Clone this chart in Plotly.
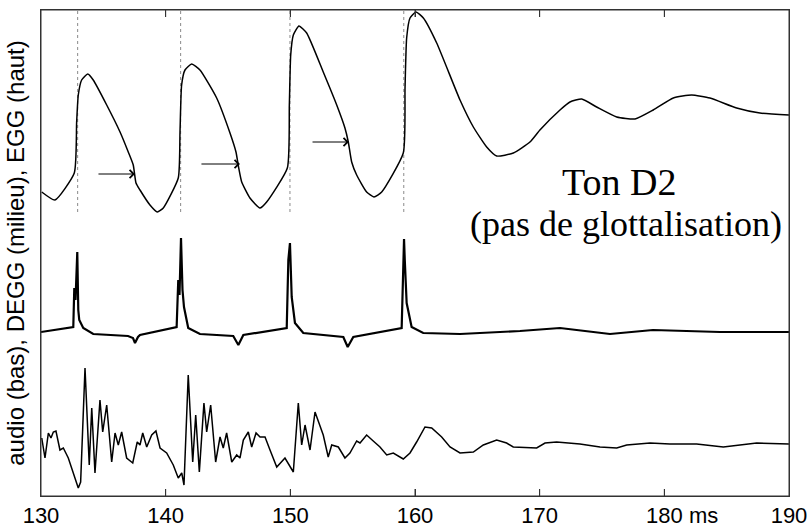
import plotly.graph_objects as go

# ---------------- data (time in ms, amplitude in arbitrary units on a common stacked scale) ----
egg_t = [130.06, 131.12, 132.67, 132.86, 132.99, 133.26, 133.75, 134.19, 135.27, 136.34,
         137.00, 137.40, 137.62, 137.94, 138.74, 139.33, 139.81, 141.01, 141.15, 141.28,
         141.55, 142.09, 142.75, 144.09, 145.16, 145.64, 145.86, 146.10, 146.76, 147.56,
         148.10, 149.76, 149.92, 150.03, 150.24, 150.69, 151.31, 152.64, 153.72, 154.38,
         154.65, 154.92, 155.32, 156.12, 156.71, 157.33, 159.06, 159.20, 159.33, 159.60,
         160.08, 160.67, 161.74, 163.61, 164.68, 165.75, 166.55, 167.89, 169.22, 170.02,
         171.63, 172.43, 173.37, 174.57, 176.18, 177.65, 179.11, 180.72, 182.19, 183.66,
         185.80, 187.67, 190.00]
egg_v = [304, 296, 323, 374, 401, 416, 422, 416, 391, 364,
         344, 331, 313, 306, 291, 284, 288, 318, 364, 411,
         426, 432, 426, 398, 363, 344, 328, 314, 298, 288,
         294, 328, 391, 441, 461, 470, 463, 424, 391, 368,
         354, 334, 321, 304, 299, 304, 343, 408, 458, 478,
         484, 478, 453, 396, 369, 349, 340, 343, 354, 366,
         386, 394, 397, 389, 379, 377, 386, 398, 401, 398,
         388, 383, 381]

degg_t = [130.00, 132.59, 132.67, 132.77, 132.91, 132.99, 133.07, 133.39, 134.19, 136.98,
          137.38, 137.54, 137.78, 137.94, 140.88, 141.01, 141.11, 141.23, 141.35, 141.47,
          141.81, 142.75, 145.42, 145.83, 146.23, 149.71, 149.84, 149.97, 150.11, 150.37,
          151.04, 154.25, 154.60, 155.05, 158.93, 159.06, 159.12, 159.18, 159.33, 159.73,
          160.66, 163.61, 168.42, 171.63, 175.64, 179.09, 184.46, 190.00]
degg_v = [164, 169, 208, 196, 244, 186, 176, 168, 162, 160,
          158, 153, 159, 161, 169, 216, 201, 258, 206, 189,
          168, 162, 160, 151, 161, 168, 236, 253, 199, 173,
          163, 159, 149, 159, 168, 223, 257, 236, 193, 169,
          163, 162, 165, 168, 162, 166, 164, 164]

audio_t = [130.06, 130.32, 130.59, 130.80, 130.99, 131.20, 131.52, 131.79, 132.19, 132.59,
           132.99, 133.18, 133.53, 133.87, 134.07, 134.33, 134.73, 134.95, 135.27, 135.67,
           135.94, 136.20, 136.47, 136.87, 137.36, 137.72, 137.94, 138.16, 138.48, 138.88,
           139.22, 139.55, 140.08, 140.61, 141.01, 141.29, 141.47, 141.81, 142.17, 142.41,
           142.70, 143.07, 143.29, 143.61, 144.01, 144.36, 144.62, 144.89, 145.30, 145.70,
           145.96, 146.23, 146.63, 146.90, 147.25, 147.57, 147.97, 148.37, 148.91, 149.57,
           150.24, 150.64, 150.91, 151.18, 151.58, 151.98, 152.24, 152.64, 153.04, 153.32,
           153.85, 154.38, 154.78, 155.32, 155.59, 156.12, 156.65, 157.19, 157.73, 158.26,
           159.06, 159.60, 160.13, 160.80, 161.34, 162.14, 162.81, 163.61, 164.68, 165.48,
           166.55, 167.35, 167.88, 169.22, 169.76, 170.43, 171.36, 173.23, 174.84, 176.18,
           176.98, 178.85, 180.45, 182.59, 184.73, 187.41, 190.00]
audio_v = [58, 38, 63, 58, 64, 65, 46, 48, 38, 24,
           8, 14, 128, 31, 88, 23, 96, 64, 91, 34,
           63, 51, 64, 38, 33, 54, 51, 63, 49, 61,
           65, 48, 43, 31, 18, 23, 11, 121, 34, 81,
           24, 93, 64, 91, 34, 59, 48, 63, 34, 41,
           38, 56, 64, 49, 63, 59, 59, 46, 29, 38,
           24, 93, 51, 71, 46, 84, 74, 61, 39, 51,
           49, 38, 43, 55, 53, 61, 55, 49, 41, 43,
           37, 43, 54, 69, 68, 59, 49, 43, 44, 51,
           56, 53, 49, 48, 48, 53, 54, 52, 49, 48,
           51, 53, 52, 52, 49, 53, 52]

# glottal closure instants (ms) marked by dotted lines
gci_ms = [132.94, 141.20, 149.97, 159.10]
gci_low = 284          # lower end of the dotted markers (amplitude units)

# arrows (opening instants)
arrow_tail_ms = [134.49, 142.75, 151.66]
arrow_tip_ms = [137.54, 145.96, 154.70]
arrow_level = [322, 332, 354]

x_ticks = [130, 140, 150, 160, 170, 180, 190]
x_ticklabels = ["130", "140", "150", "160", "170", "180", "190"]
y_range = [0, 486]

ylabel = "audio (bas), DEGG (milieu), EGG (haut)"
note_1 = "Ton D2"
note_2 = "(pas de glottalisation)"

# ---------------- figure ----------------
fig = go.Figure()
fig.add_trace(go.Scatter(x=egg_t, y=egg_v, mode="lines",
                         line=dict(color="black", width=1.5, shape="spline", smoothing=0.5),
                         showlegend=False, hoverinfo="skip"))
fig.add_trace(go.Scatter(x=degg_t, y=degg_v, mode="lines",
                         line=dict(color="black", width=2.2),
                         showlegend=False, hoverinfo="skip"))
fig.add_trace(go.Scatter(x=audio_t, y=audio_v, mode="lines",
                         line=dict(color="black", width=1.5),
                         showlegend=False, hoverinfo="skip"))

for t in gci_ms:
    fig.add_shape(type="line", xref="x", yref="y", x0=t, x1=t, y0=gci_low, y1=y_range[1],
                  line=dict(color="#8a8a8a", width=1, dash="dot"), layer="below")

# frame around the plotting area
fig.add_shape(type="rect", xref="paper", yref="paper", x0=0, x1=1, y0=0, y1=1,
              line=dict(color="#333", width=1), fillcolor="rgba(0,0,0,0)", layer="above")

# inside tick marks, bottom and top (7 px long on a 486 px tall plot)
tick_frac = 7 / 486
for t in x_ticks[1:-1]:
    fig.add_shape(type="line", xref="x", yref="paper", x0=t, x1=t, y0=0, y1=tick_frac,
                  line=dict(color="#333", width=1))
    fig.add_shape(type="line", xref="x", yref="paper", x0=t, x1=t, y0=1 - tick_frac, y1=1,
                  line=dict(color="#333", width=1))

for a0, a1, lv in zip(arrow_tail_ms, arrow_tip_ms, arrow_level):
    fig.add_annotation(x=a1, y=lv, ax=a0, ay=lv, xref="x", yref="y", axref="x", ayref="y",
                       text="", showarrow=True, arrowhead=4, arrowsize=1.6, arrowwidth=1,
                       arrowcolor="black", standoff=0, startstandoff=0)

serif = "Liberation Serif, Times New Roman, serif"
sans = "Liberation Sans, Arial, Helvetica, sans-serif"
fig.add_annotation(x=(619 - 41) / 748, y=(496 - 182) / 486, xref="paper", yref="paper",
                   text=note_1, showarrow=False, xanchor="center", yanchor="middle",
                   font=dict(family=serif, size=38, color="black"))
fig.add_annotation(x=(626 - 41) / 748, y=(496 - 224) / 486, xref="paper", yref="paper",
                   text=note_2, showarrow=False, xanchor="center", yanchor="middle",
                   font=dict(family=serif, size=36, color="black"))
fig.add_annotation(x=180, y=0, xref="x", yref="paper", text="ms", showarrow=False,
                   xanchor="left", yanchor="top", xshift=23, yshift=-5,
                   font=dict(family=sans, size=22, color="black"))

fig.update_layout(
    width=809, height=531,
    margin=dict(l=41, r=20, t=10, b=35, autoexpand=False),
    paper_bgcolor="white", plot_bgcolor="white",
    xaxis=dict(range=[130, 190], tickvals=x_ticks, ticktext=x_ticklabels, automargin=False,
               ticks="inside", ticklen=7, tickcolor="#333", tickwidth=1, mirror="ticks",
               showline=True, linecolor="#333", linewidth=1, showgrid=False, zeroline=False,
               tickfont=dict(family=sans, size=22, color="black")),
    yaxis=dict(range=y_range, showticklabels=False, ticks="", showline=True, mirror=True,
               automargin=False,
               linecolor="#333", linewidth=1, showgrid=False, zeroline=False,
               title=dict(text=ylabel, standoff=8,
                          font=dict(family=sans, size=24, color="black"))),
)

fig.write_html("out.html", config={"displayModeBar": False},
               post_script="document.body.style.margin='0';")
